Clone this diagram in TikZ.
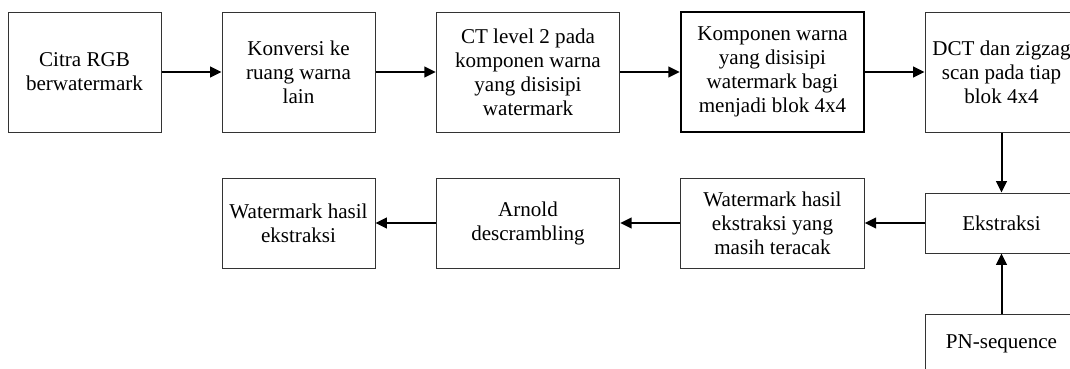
\documentclass[tikz,border=0pt]{standalone}
\usepackage{fontspec}
\setmainfont{Liberation Serif}
\usetikzlibrary{arrows.meta}
\begin{document}
\begin{tikzpicture}[x=0.75pt,y=-0.75pt,
  box/.style={draw=black!80, line width=0.75pt, inner sep=0pt, align=center,
    font=\fontsize{15.8}{18}\selectfont},
  tall/.style={box, minimum height=90pt},
  mid/.style={box, minimum height=67.5pt},
  low/.style={box, minimum height=45pt},
  narrow/.style={minimum width=114.75pt},
  wide/.style={minimum width=137.6pt},
  arr/.style={line width=1.5pt, draw=black, -{Triangle[length=8.5pt,width=8pt]}}]
\useasboundingbox (0,0) rectangle (1070,368);
% row 1
\node[tall, narrow] (citra) at (84.5,72) {Citra RGB\\berwatermark};
\node[tall, narrow] (konv) at (298.5,72) {Konversi ke\\ruang warna\\lain};
\node[tall, wide] (ct) at (528,72) {CT level 2 pada\\komponen warna\\yang disisipi\\watermark};
\node[tall, wide, line width=1.5pt, draw=black] (komp) at (772.5,72) {Komponen warna\\yang disisipi\\watermark bagi\\menjadi blok 4x4};
\node[tall, narrow] (dct) at (1001.5,72) {DCT dan zigzag\\scan pada tiap\\blok 4x4};
% row 2
\node[mid, narrow] (hasil) at (298.5,223) {Watermark hasil\\ekstraksi};
\node[mid, wide] (arnold) at (528,223) {Arnold\\descrambling};
\node[mid, wide] (acak) at (772.5,223) {Watermark hasil\\ekstraksi yang\\masih teracak};
\node[low, narrow] (ekstr) at (1001.5,223) {Ekstraksi};
\node[low, narrow] (pn) at (1001.5,344) {PN-sequence};
% connectors
\draw[arr] (citra.east) -- (konv.west);
\draw[arr] (konv.east) -- (ct.west);
\draw[arr] (ct.east) -- (komp.west);
\draw[arr] (komp.east) -- (dct.west);
\draw[arr] (dct.south) -- (ekstr.north);
\draw[arr] (pn.north) -- (ekstr.south);
\draw[arr] (ekstr.west) -- (acak.east);
\draw[arr] (acak.west) -- (arnold.east);
\draw[arr] (arnold.west) -- (hasil.east);
\end{tikzpicture}
\end{document}
